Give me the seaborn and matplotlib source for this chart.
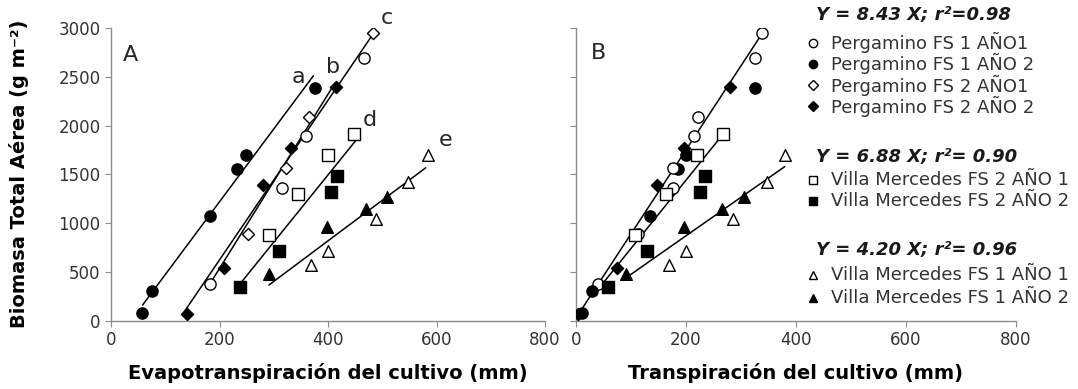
import numpy as np
import pandas as pd
import matplotlib
matplotlib.use("Agg")
import matplotlib.pyplot as plt
import seaborn as sns
from matplotlib.lines import Line2D

# biomasa (g m-2), evapotranspiracion (mm) y transpiracion (mm) por serie
pfs1_a1_bio = [370, 1360, 1890, 2690]
pfs1_a1_et = [183, 315, 360, 467]
pfs1_a1_t = [41, 176, 215, 325]

pfs1_a2_bio = [75, 305, 1070, 1550, 1700, 2380]
pfs1_a2_et = [58, 75, 183, 233, 248, 376]
pfs1_a2_t = [12, 30, 135, 186, 200, 326]

pfs2_a1_bio = [885, 1560, 2090, 2945]
pfs2_a1_et = [253, 322, 364, 482]
pfs2_a1_t = [114, 177, 223, 338]

pfs2_a2_bio = [70, 535, 1390, 1770, 2390]
pfs2_a2_et = [140, 208, 281, 332, 415]
pfs2_a2_t = [4, 76, 147, 196, 280]

vm2_a1_bio = [880, 1295, 1700, 1915]
vm2_a1_et = [291, 344, 400, 448]
vm2_a1_t = [108, 164, 220, 268]

vm2_a2_bio = [340, 715, 1315, 1485]
vm2_a2_et = [238, 310, 405, 416]
vm2_a2_t = [59, 129, 225, 235]

vm1_a1_bio = [570, 715, 1040, 1420, 1700]
vm1_a1_et = [368, 400, 488, 547, 585]
vm1_a1_t = [170, 200, 285, 347, 380]

vm1_a2_bio = [480, 955, 1140, 1270]
vm1_a2_et = [291, 398, 470, 509]
vm1_a2_t = [91, 196, 266, 306]

series_names = ["Pergamino FS 1 AÑO1", "Pergamino FS 1 AÑO 2",
                "Pergamino FS 2 AÑO1", "Pergamino FS 2 AÑO 2",
                "Villa Mercedes FS 2 AÑO 1", "Villa Mercedes FS 2 AÑO 2",
                "Villa Mercedes FS 1 AÑO 1", "Villa Mercedes FS 1 AÑO 2"]

# rectas de ajuste panel A (extremos)
lines_a_labels = ["a", "b", "c", "d", "e"]
lines_a_x0 = [58, 179, 133, 241, 291]
lines_a_x1 = [373, 413, 484, 452, 580]
lines_a_y0 = [158, 347, 74, 398, 364]
lines_a_y1 = [2510, 2437, 2947, 1852, 1566]
lines_a_label_x = [345, 409, 508, 477, 616]
lines_a_label_y = [2500, 2600, 3100, 2060, 1850]

# rectas panel B
eq_titles = ["Y = 8.43 X; r²=0.98", "Y = 6.88 X; r²= 0.90", "Y = 4.20 X; r²= 0.96"]
lines_b_x0 = [8, 45, 93]
lines_b_x1 = [341, 268, 380]
lines_b_y0 = [90, 350, 444]
lines_b_y1 = [2963, 1913, 1579]

bio = [pfs1_a1_bio, pfs1_a2_bio, pfs2_a1_bio, pfs2_a2_bio,
       vm2_a1_bio, vm2_a2_bio, vm1_a1_bio, vm1_a2_bio]
et = [pfs1_a1_et, pfs1_a2_et, pfs2_a1_et, pfs2_a2_et,
      vm2_a1_et, vm2_a2_et, vm1_a1_et, vm1_a2_et]
tr = [pfs1_a1_t, pfs1_a2_t, pfs2_a1_t, pfs2_a2_t,
      vm2_a1_t, vm2_a2_t, vm1_a1_t, vm1_a2_t]

# estilos de marcador
mk_a = ["o", "o", "D", "D", "s", "s", "^", "^"]
mk_b = ["o", "o", "o", "D", "s", "s", "^", "^"]
face = ["white", "black", "white", "black", "white", "black", "white", "black"]
size = {"o": 65, "D": 38, "s": 75, "^": 70}

sns.set_style("ticks")
plt.rcParams["font.family"] = ["DejaVu Sans"]

W, H = 1078, 389
fig = plt.figure(figsize=(W / 100, H / 100), dpi=100)
axA = fig.add_axes([0.103, 0.176, 0.4026, 0.752])
axB = fig.add_axes([0.534, 0.176, 0.4085, 0.752])

for i in range(len(series_names)):
    sns.scatterplot(x=et[i], y=bio[i], marker=mk_a[i], s=size[mk_a[i]],
                    color=face[i], edgecolor="black", linewidth=1,
                    ax=axA, legend=False, zorder=3)
    sns.scatterplot(x=tr[i], y=bio[i], marker=mk_b[i], s=size[mk_b[i]],
                    color=face[i], edgecolor="black", linewidth=1,
                    ax=axB, legend=False, zorder=3)

for i in range(len(lines_a_labels)):
    axA.plot([lines_a_x0[i], lines_a_x1[i]], [lines_a_y0[i], lines_a_y1[i]],
             color="black", lw=1.1, zorder=2)
    axA.text(lines_a_label_x[i], lines_a_label_y[i], lines_a_labels[i],
             fontsize=16, ha="center", va="center", clip_on=False)

for i in range(len(lines_b_x0)):
    axB.plot([lines_b_x0[i], lines_b_x1[i]], [lines_b_y0[i], lines_b_y1[i]],
             color="black", lw=1.1, zorder=2)

axA.text(35, 2720, "A", fontsize=16, ha="center", va="center")
axB.text(41, 2740, "B", fontsize=16, ha="center", va="center")

for ax in [axA, axB]:
    ax.set_xlim(0, 800)
    ax.set_ylim(0, 3000)
    ax.set_xticks([0, 200, 400, 600, 800])
    ax.set_yticks([0, 500, 1000, 1500, 2000, 2500, 3000])
    sns.despine(ax=ax)
    for sp in ["left", "bottom"]:
        ax.spines[sp].set_color("#8c8c8c")
        ax.spines[sp].set_linewidth(1)
    ax.tick_params(length=4, color="#8c8c8c", labelcolor="#333333", labelsize=12)

axB.set_yticklabels([])
axA.set_xlabel("Evapotranspiración del cultivo (mm)", fontsize=14,
               fontweight="bold", color="black")
axB.set_xlabel("Transpiración del cultivo (mm)", fontsize=14,
               fontweight="bold", color="black")
axA.xaxis.set_label_coords(0.5, -0.145)
axB.xaxis.set_label_coords(0.5, -0.145)
axA.set_ylabel("Biomasa Total Aérea (g m⁻²)", fontsize=14, fontweight="bold",
               color="black")
axA.yaxis.set_label_coords(-0.19, 0.5)

# leyenda manual en tres grupos (posiciones en pixeles desde arriba)
groups = [[0, 1, 2, 3], [4, 5], [6, 7]]
title_rows = [15, 157, 250]
entry_rows = [[42.5, 63.5, 85, 106], [180, 201.5], [275, 298]]
for g, idx in enumerate(groups):
    fig.text(816 / W, 1 - title_rows[g] / H, eq_titles[g], fontsize=13,
             fontweight="bold", fontstyle="italic", va="center", ha="left",
             color="#1a1a1a")
    for k, i in enumerate(idx):
        yy = 1 - entry_rows[g][k] / H
        fig.add_artist(Line2D([813 / W], [yy], transform=fig.transFigure,
                              ls="none", marker=mk_a[i],
                              markersize=6 if mk_a[i] != "D" else 4.8,
                              markerfacecolor=face[i], markeredgecolor="black",
                              markeredgewidth=1))
        fig.text(831 / W, yy, series_names[i], fontsize=13, va="center",
                 ha="left", color="#333333")

plt.savefig("out.png", dpi=100)
